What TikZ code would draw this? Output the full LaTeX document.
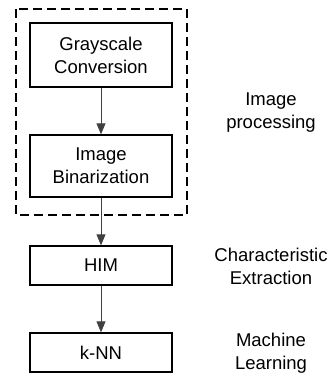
\documentclass[tikz,border=0pt]{standalone}
\usepackage{fontspec}
\setmainfont{Liberation Sans}
\usetikzlibrary{positioning}
\usetikzlibrary{arrows.meta}

\begin{document}
\begin{tikzpicture}[x=1pt,y=-1pt,
        every node/.style={font=\fontsize{18.5}{23}\selectfont, align=center},
        stage/.style={draw, line width=1.3pt, minimum width=142pt, inner sep=0pt},
        flow/.style={-{Triangle[width=9pt,length=11pt]}, draw=black!75, line width=0.8pt}]

        \useasboundingbox (0,0) rectangle (336,377);

        \node[stage, minimum height=64pt] (gray) at (101,55) {Grayscale\\Conversion};
        \node[stage, minimum height=62pt] (bin) at (101,166) {Image\\Binarization};
        \node[stage, minimum height=39pt] (him) at (101,265.5) {HIM};
        \node[stage, minimum height=39pt] (knn) at (101,352.5) {k-NN};

        \draw[dashed, line width=1.3pt, dash pattern=on 9pt off 5pt] (16,9) rectangle (187,215);

        \node (proc) at (271,113) {Image\\processing};
        \node (extr) at (271,266) {Characteristic\\Extraction};
        \node (learn) at (271,353) {Machine\\Learning};

        \draw[flow] (gray) -- (bin);
        \draw[flow] (bin) -- (him);
        \draw[flow] (him) -- (knn);

    \end{tikzpicture}
\end{document}
